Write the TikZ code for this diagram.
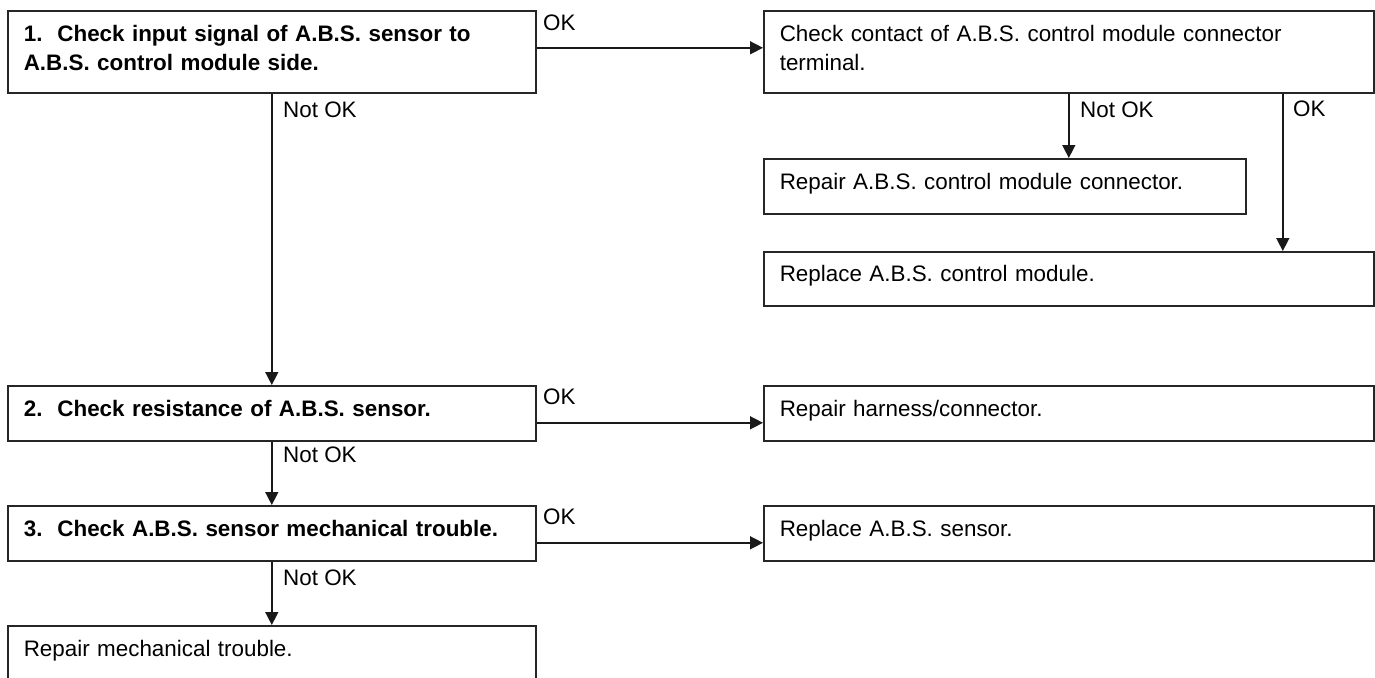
\documentclass[tikz,border=0pt]{standalone}
\usepackage{fontspec}
\setmainfont{Liberation Sans}
\usetikzlibrary{arrows.meta}
\begin{document}
\begin{tikzpicture}[x=1pt,y=-1pt,
  box/.style={draw=black!85, line width=1.6pt, anchor=north west, inner xsep=16pt, inner ysep=0pt,
    align=left, text depth=10pt, font=\fontsize{22.4}{28.6}\selectfont},
  twoline/.style={text depth=37pt},
  lbl/.style={anchor=west, inner sep=0pt, font=\fontsize{22.4}{26}\selectfont},
  arr/.style={draw=black!90, line width=1.5pt, -{Triangle[length=13pt,width=13pt]}}]
\useasboundingbox (0,0) rectangle (1375,677);

% left column
\node[box, twoline, minimum width=528pt, minimum height=82pt, text width=496pt] (b1) at (7,10)
  {\bfseries 1.~~Check input signal of A.B.S. sensor to\\ \bfseries A.B.S. control module side.};
\node[box, minimum width=528pt, minimum height=55pt, text width=496pt] (b2) at (7,385)
  {\bfseries 2.~~Check resistance of A.B.S. sensor.};
\node[box, minimum width=528pt, minimum height=55pt, text width=496pt] (b3) at (7,505)
  {\bfseries 3.~~Check A.B.S. sensor mechanical trouble.};
\node[box, minimum width=528pt, minimum height=55pt, text width=496pt] (b4) at (7,625)
  {Repair mechanical trouble.};

% right column
\node[box, twoline, minimum width=610pt, minimum height=82pt, text width=578pt] (r1) at (763,10)
  {Check contact of A.B.S. control module connector\\ terminal.};
\node[box, minimum width=482pt, minimum height=55pt, text width=450pt] (r2) at (763,158)
  {Repair A.B.S. control module connector.};
\node[box, minimum width=610pt, minimum height=54pt, text width=578pt] (r3) at (763,251)
  {Replace A.B.S. control module.};
\node[box, minimum width=610pt, minimum height=55pt, text width=578pt] (r4) at (763,385)
  {Repair harness/connector.};
\node[box, minimum width=610pt, minimum height=55pt, text width=578pt] (r5) at (763,505)
  {Replace A.B.S. sensor.};

% connectors
\draw[arr] ([yshift=4pt]b1.east) -- ([yshift=4pt]r1.west);
\draw[arr] (b1.south) -- (b2.north);
\draw[arr] ([yshift=-9.5pt]b2.east) -- ([yshift=-9.5pt]r4.west);
\draw[arr] (b2.south) -- (b3.north);
\draw[arr] ([yshift=-9.5pt]b3.east) -- ([yshift=-9.5pt]r5.west);
\draw[arr] (b3.south) -- (b4.north);
\draw[arr] (r1.south) -- (r1.south |- r2.north);
\coordinate (okx) at ([xshift=214pt]r1.south);
\draw[arr] (okx) -- (okx |- r3.north);

% labels
\node[lbl] (l1) at (543,23) {OK};
\node[lbl] (l2) at (283,110) {Not OK};
\node[lbl] (l3) at (1080,110) {Not OK};
\node[lbl] (l4) at (1293,109) {OK};
\node[lbl] (l5) at (543,397) {OK};
\node[lbl] (l6) at (283,455) {Not OK};
\node[lbl] (l7) at (543,517) {OK};
\node[lbl] (l8) at (283,578) {Not OK};
\end{tikzpicture}
\end{document}
